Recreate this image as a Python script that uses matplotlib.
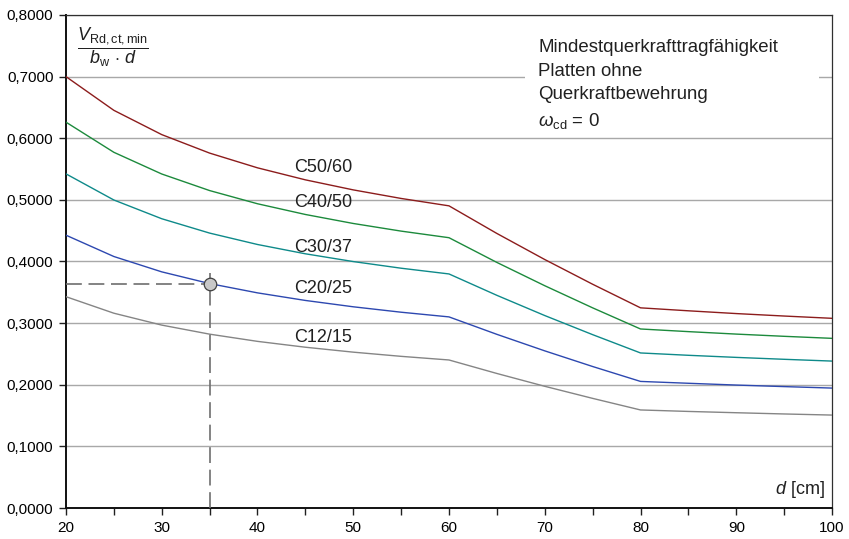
import numpy as np
import matplotlib
matplotlib.use("Agg")
import matplotlib.pyplot as plt
from matplotlib import ticker
from matplotlib.patches import Rectangle

plt.rcParams['font.family'] = ['Liberation Sans', 'DejaVu Sans']
plt.rcParams['mathtext.fontset'] = 'custom'
plt.rcParams['mathtext.rm'] = 'Liberation Sans'
plt.rcParams['mathtext.it'] = 'Liberation Sans:italic'

# effective depth d [cm]
d_cm = [20, 25, 30, 35, 40, 45, 50, 55, 60, 65, 70, 75, 80, 85, 90, 95, 100]

# v_Rd,ct,min / (b_w * d) per concrete class
c12_15 = [0.3429, 0.3161, 0.2968, 0.2821, 0.2704, 0.2609, 0.2529, 0.2461, 0.2402,
          0.2183, 0.1975, 0.1779, 0.1591, 0.1567, 0.1546, 0.1526, 0.1508]
c20_25 = [0.4427, 0.4081, 0.3832, 0.3642, 0.3491, 0.3368, 0.3265, 0.3177, 0.3101,
          0.2818, 0.2550, 0.2296, 0.2054, 0.2024, 0.1995, 0.1970, 0.1946]
c30_37 = [0.5422, 0.4998, 0.4694, 0.4461, 0.4276, 0.4125, 0.3999, 0.3891, 0.3798,
          0.3451, 0.3123, 0.2813, 0.2516, 0.2478, 0.2444, 0.2413, 0.2384]
c40_50 = [0.6261, 0.5772, 0.5420, 0.5151, 0.4937, 0.4763, 0.4617, 0.4493, 0.4386,
          0.3985, 0.3607, 0.3248, 0.2905, 0.2862, 0.2822, 0.2786, 0.2753]
c50_60 = [0.7000, 0.6453, 0.6059, 0.5759, 0.5520, 0.5325, 0.5162, 0.5023, 0.4903,
          0.4455, 0.4032, 0.3631, 0.3248, 0.3200, 0.3155, 0.3115, 0.3078]

labels = ['C12/15', 'C20/25', 'C30/37', 'C40/50', 'C50/60']
series = [c12_15, c20_25, c30_37, c40_50, c50_60]
colors = ['#858585', '#2d48b0', '#0e8a8a', '#1c8a3c', '#8c1c1c']
label_pos = [(43.8, 0.276), (43.8, 0.356), (43.8, 0.423), (43.8, 0.495), (43.8, 0.552)]

# reading example
ex_d = 35
ex_v = 0.3642

fig = plt.figure(figsize=(8.49, 5.39), dpi=100)
ax = fig.add_axes([0.0777, 0.0575, 0.9023, 0.9147])

for vals, col, lab, pos in zip(series, colors, labels, label_pos):
    ax.plot(d_cm, vals, color=col, lw=1.0, zorder=3)
    ax.text(pos[0], pos[1], lab, fontsize=13, color='#202020', va='center', ha='left', zorder=4)

# dashed reading lines
ax.plot([20, ex_d], [ex_v, ex_v], color='#6e6e6e', lw=1.2, dashes=(9.5, 4), zorder=3)
ax.plot([ex_d, ex_d], [0, 0.381], color='#6e6e6e', lw=1.2, dashes=(9.5, 4), zorder=3)
ax.plot([ex_d], [ex_v], 'o', ms=9, mfc='#c8c8c8', mec='#404040', mew=0.9, zorder=5)

ax.set_xlim(20, 100)
ax.set_ylim(0, 0.8)
ax.xaxis.set_major_locator(ticker.MultipleLocator(10))
ax.xaxis.set_minor_locator(ticker.MultipleLocator(5))
ax.yaxis.set_major_locator(ticker.MultipleLocator(0.1))
ax.yaxis.set_major_formatter(ticker.FuncFormatter(lambda v, p: f'{v:.4f}'.replace('.', ',')))
ax.tick_params(axis='both', which='both', direction='out', length=5, width=1, labelsize=11, color='#202020')
ax.tick_params(axis='x', which='major', pad=4)
ax.tick_params(axis='y', which='major', pad=4)
ax.tick_params(top=False, right=False)
ax.grid(axis='y', color='#a8a8a8', lw=1.0, zorder=0)
ax.set_axisbelow(True)

for s in ['left', 'bottom']:
    ax.spines[s].set_linewidth(1.4)
    ax.spines[s].set_color('#101010')
for s in ['top', 'right']:
    ax.spines[s].set_linewidth(0.9)
    ax.spines[s].set_color('#303030')

# axis captions
ax.text(24.9, 0.748, r'$\dfrac{V_{\mathrm{Rd,ct,min}}}{b_{\mathrm{w}}\,\cdot\,d}$',
        fontsize=13, ha='center', va='center', color='#202020')
ax.text(99.2, 0.03, r'$d$ [cm]', fontsize=13, ha='right', va='center', color='#202020')

# white panel behind the note
ax.add_patch(Rectangle((0.599, 0.763), 0.384, 0.207, transform=ax.transAxes,
                       facecolor='white', edgecolor='none', zorder=1))
ax.text(69.3, 0.686,
        'Mindestquerkrafttragfähigkeit\nPlatten ohne\nQuerkraftbewehrung\n'
        r'$\omega_{\mathrm{cd}}$ = 0',
        fontsize=13.4, ha='left', va='center', linespacing=1.5, color='#202020', zorder=2)

fig.savefig('out.png', dpi=100)
